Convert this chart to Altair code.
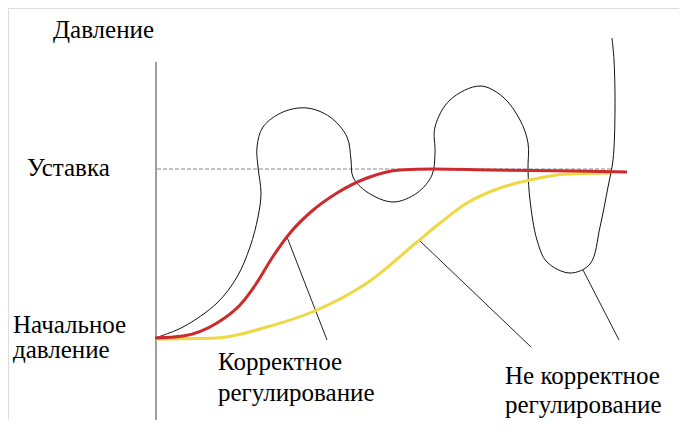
import altair as alt
import pandas as pd

# Schematic (time on x, pressure on y, in picture units; y grows downward)
correct_t = [155, 183, 217, 240, 256, 272, 290, 312, 337, 367, 400, 433, 490, 577, 627]
correct_p = [338, 336, 323, 305, 284, 258, 233, 211, 193, 178, 170, 169, 170, 171, 172]

slow_t = [155, 217, 267, 317, 367, 417, 440, 467, 500, 530, 567, 610]
slow_p = [339, 338, 327, 310, 283, 242, 223, 203, 188, 180, 174, 173]

osc_t = [155, 183, 217, 237, 250, 258, 261, 258, 257, 263, 283, 307, 330, 347, 351, 353, 367, 393,
         417, 432, 435, 435, 450, 480, 503, 520, 528, 528, 530, 537, 547, 570, 590, 600, 608, 613,
         615, 614, 612]
osc_p = [338, 327, 303, 277, 247, 217, 193, 167, 147, 127, 112, 108, 117, 137, 160, 177, 192, 202,
         193, 175, 153, 127, 100, 86, 97, 120, 143, 170, 200, 240, 262, 273, 264, 227, 187, 160,
         110, 60, 38]

axis_t = [156, 156]
axis_p = [62, 428]
setpoint_t = [157, 612]
setpoint_p = [169, 169]

leader_ids = ["a", "a", "b", "b", "c", "c"]
leader_t = [287, 327, 420, 531, 583, 619]
leader_p = [237, 340, 241, 347, 270, 340]

label_texts = ["Давление", "Уставка", "Начальное", "давление", "Корректное", "регулирование",
               "Не корректное", "регулирование"]
label_t = [53, 27, 13, 13, 218, 218, 505, 505]
label_p = [37, 175, 332, 357, 369, 400, 383, 412]

X = alt.Scale(domain=[8, 679])
Y = alt.Scale(domain=[8, 420], reverse=True)
FONT = "Liberation Serif"


def line_df(t, p):
    return pd.DataFrame({"t": t, "p": p, "i": list(range(len(t)))})


def enc(chart):
    return chart.encode(
        x=alt.X("t:Q", scale=X, axis=None),
        y=alt.Y("p:Q", scale=Y, axis=None),
        order="i:O",
    )


axis_line = enc(alt.Chart(line_df(axis_t, axis_p)).mark_line(color="#808080", strokeWidth=1.5, clip=True))
setpoint = enc(alt.Chart(line_df(setpoint_t, setpoint_p)).mark_line(
    color="#8a8a8a", strokeWidth=1.2, strokeDash=[4, 2]))
osc = enc(alt.Chart(line_df(osc_t, osc_p)).mark_line(
    color="#111111", strokeWidth=1, interpolate="catmull-rom", clip=True))
slow = enc(alt.Chart(line_df(slow_t, slow_p)).mark_line(
    color="#eed843", strokeWidth=3, interpolate="monotone"))
correct = enc(alt.Chart(line_df(correct_t, correct_p)).mark_line(
    color="#cc2a2c", strokeWidth=3, interpolate="monotone"))
leaders = alt.Chart(pd.DataFrame({"t": leader_t, "p": leader_p, "g": leader_ids})).mark_line(
    color="#222222", strokeWidth=1).encode(
    x=alt.X("t:Q", scale=X, axis=None),
    y=alt.Y("p:Q", scale=Y, axis=None),
    detail="g:N",
)

label_layers = []
for s, t, p in zip(label_texts, label_t, label_p):
    label_layers.append(
        alt.Chart(pd.DataFrame({"t": [t], "p": [p], "s": [s]})).mark_text(
            align="left", font=FONT, fontSize=25, dy=-7).encode(
            x=alt.X("t:Q", scale=X, axis=None),
            y=alt.Y("p:Q", scale=Y, axis=None),
            text="s:N",
        )
    )

chart = alt.layer(axis_line, setpoint, osc, leaders, slow, correct, *label_layers).properties(
    width=671, height=412, padding=0, autosize=alt.AutoSizeParams(type="none"),
)

chart.save("out.html", embed_options={"renderer": "svg", "actions": False})
